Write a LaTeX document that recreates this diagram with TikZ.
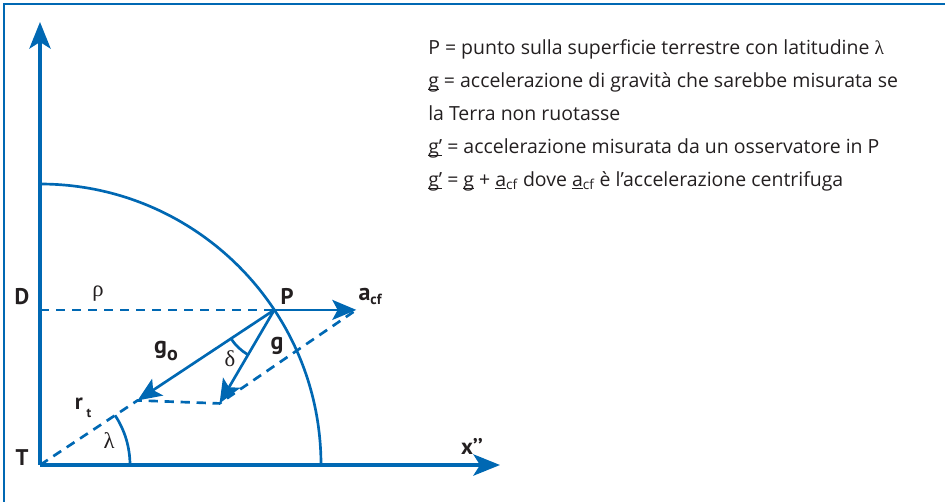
\documentclass[tikz,border=0pt]{standalone}
\usepackage{fontspec}
\setmainfont{PT Sans}
\newfontfamily\legendfont{Open Sans}
\newfontfamily\greekfont{Liberation Serif}
\usepackage{tikz}
\usetikzlibrary{arrows.meta,calc}
\definecolor{earthblue}{RGB}{0,104,179}
\definecolor{inkgray}{RGB}{35,31,32}
\newcommand{\uvec}[1]{\underline{\smash{#1}}}

\begin{document}
\begin{tikzpicture}[x=0.75pt, y=0.75pt,
    axis/.style={earthblue, line width=2.3pt, -{Stealth[length=20pt, width=16pt, inset=5pt]}},
    vec/.style={earthblue, line width=2pt, -{Stealth[length=18pt, width=15pt, inset=4pt]}},
    guide/.style={earthblue, line width=2pt, dash pattern=on 7pt off 5pt},
    curve/.style={earthblue, line width=2pt},
    lbl/.style={font=\fontsize{17}{17}\selectfont\bfseries, text=inkgray, inner sep=0pt},
    biglbl/.style={lbl, font=\fontsize{18}{18}\selectfont\bfseries},
    greek/.style={font=\fontsize{17}{17}\greekfont, text=inkgray, inner sep=0pt},
]
    \useasboundingbox (0,0) rectangle (945,501);
    \draw[earthblue, line width=2pt] (4,-5) -- (4,497) -- (950,497);

    % points of the construction
    \coordinate (T) at (40,36);
    \coordinate (ytip) at (40,479);
    \coordinate (xtip) at (500,36);
    \coordinate (P) at ($(T)+(33.5:281)$);
    \coordinate (D) at (T |- P);
    \coordinate (A) at ($(P)+(82,0)$);
    \coordinate (G0) at ($(T)+(33.5:117)$);
    \coordinate (G) at ($(G0)+(82,-3)$);

    \draw[axis] (T) -- (ytip);
    \draw[axis] (T) -- (xtip);
    \draw[curve] ($(T)+(281,0)$) arc[start angle=0, end angle=90, radius=281];

    \draw[guide] (D) -- (P);
    \draw[guide] (T) -- (G0) -- (G) -- (A);
    \draw[vec] (P) -- (A);
    \draw[vec] (P) -- (G0);
    \draw[vec] (P) -- (G);

    \draw[curve] ($(T)+(90,0)$) arc[start angle=0, end angle=33.5, radius=90];
    \draw[curve] ($(P)+(213.5:52)$) arc[start angle=213.5, end angle=239, radius=52];

    % labels
    \node[lbl] (lT) at (22,43) {T};
    \node[lbl] (lD) at (22,204) {D};
    \node[lbl] (lP) at (287,205) {P};
    \node[biglbl] (lA) at (370,205) {a\raisebox{-3pt}{\fontsize{11}{11}\selectfont cf}};
    \node[lbl] (lX) at (472,55) {x’’};
    \node[biglbl] (lG) at (277,155) {g};
    \node[biglbl] (lG0) at (166,150) {g\raisebox{-5pt}{\fontsize{15}{15}\selectfont o}};
    \node[lbl] (lR) at (83,93) {r\,\raisebox{-6pt}{\fontsize{10}{10}\selectfont t}};
    \node[greek] (lrho) at (98,207) {ρ};
    \node[greek] (ldelta) at (230,142) {δ};
    \node[greek] (llambda) at (109,60) {λ};

    \node[anchor=north west, align=left, text=inkgray, inner sep=0pt,
          font=\fontsize{14.6}{24.75}\legendfont] (legend) at (428,462)
        {P = punto sulla superficie terrestre con latitudine {\greekfont λ}\\
         \uvec{g} = accelerazione di gravità che sarebbe misurata se\\
         la Terra non ruotasse\\
         \uvec{g’} = accelerazione misurata da un osservatore in P\\
         \uvec{g’} = \uvec{g} + \uvec{a}\textsubscript{cf} dove \uvec{a}\textsubscript{cf} è l’accelerazione centrifuga};
\end{tikzpicture}
\end{document}
